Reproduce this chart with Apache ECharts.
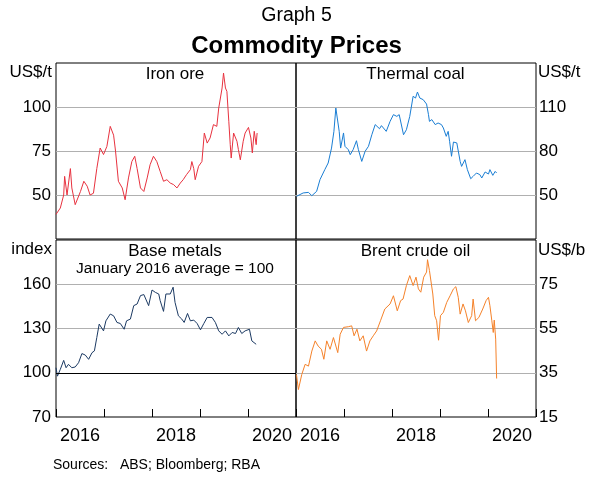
<!DOCTYPE html>
<html>
<head>
<meta charset="utf-8">
<script src="https://cdn.jsdelivr.net/npm/echarts@6/dist/echarts.min.js"></script>
<style>
  html, body { margin: 0; padding: 0; background: #fff; }
  #chart { width: 593px; height: 487px; }
</style>
</head>
<body>
<div id="chart"></div>
<script>
// dates are decimal years
const ironDates = [2016.00, 2016.09, 2016.16, 2016.18, 2016.23, 2016.30, 2016.33, 2016.40, 2016.51, 2016.58, 2016.65, 2016.71, 2016.78, 2016.85, 2016.92, 2016.99, 2017.06, 2017.13, 2017.20, 2017.24, 2017.30, 2017.38, 2017.44, 2017.51, 2017.58, 2017.64, 2017.69, 2017.76, 2017.83, 2017.90, 2017.96, 2018.03, 2018.10, 2018.17, 2018.24, 2018.31, 2018.38, 2018.45, 2018.52, 2018.59, 2018.65, 2018.72, 2018.80, 2018.83, 2018.87, 2018.90, 2018.97, 2019.04, 2019.09, 2019.15, 2019.21, 2019.28, 2019.35, 2019.39, 2019.46, 2019.49, 2019.53, 2019.56, 2019.60, 2019.63, 2019.65, 2019.70, 2019.77, 2019.80, 2019.84, 2019.90, 2019.94, 2020.01, 2020.06, 2020.09, 2020.13, 2020.17, 2020.19]
const ironValues = [39, 42.6, 50, 60.6, 50, 65, 54, 44.5, 52, 57.8, 55, 50, 51, 65, 76.7, 73, 77.6, 89, 84, 75, 57.8, 54, 47.3, 59.7, 69, 72, 65, 54, 52, 59.7, 67.2, 72, 69, 63.4, 57.8, 58.7, 56.8, 55.9, 54, 56.8, 58.7, 61.6, 64.4, 69, 65, 58.7, 66.3, 69, 85.2, 79.5, 82.4, 90, 89, 99.4, 110.8, 119.3, 110.8, 108.9, 91.9, 78.6, 71, 85.2, 80.5, 75.8, 70, 80.5, 85.2, 88.4, 82.4, 73.9, 86.2, 78.6, 85.2]

const coalDates = [2016.01, 2016.15, 2016.26, 2016.33, 2016.43, 2016.50, 2016.60, 2016.67, 2016.74, 2016.79, 2016.83, 2016.86, 2016.90, 2016.93, 2016.99, 2017.02, 2017.09, 2017.13, 2017.19, 2017.26, 2017.30, 2017.37, 2017.44, 2017.51, 2017.58, 2017.65, 2017.74, 2017.78, 2017.88, 2017.96, 2018.03, 2018.10, 2018.15, 2018.24, 2018.30, 2018.37, 2018.44, 2018.49, 2018.53, 2018.58, 2018.65, 2018.72, 2018.76, 2018.78, 2018.83, 2018.90, 2018.96, 2019.03, 2019.07, 2019.13, 2019.17, 2019.20, 2019.24, 2019.28, 2019.35, 2019.42, 2019.45, 2019.52, 2019.57, 2019.64, 2019.69, 2019.76, 2019.83, 2019.87, 2019.94, 2020.01, 2020.04, 2020.10, 2020.15, 2020.18]
const coalValues = [49.1, 51.4, 51.8, 49.5, 52.5, 60.5, 67.3, 71.8, 82, 93.4, 109.3, 108.2, 93.4, 82, 92.3, 83.2, 80.9, 77.5, 80.9, 87, 80.9, 72.9, 79.8, 83.2, 91.1, 98, 95.2, 97.3, 93.4, 100.2, 104.8, 103.6, 104.8, 91.1, 94.5, 103.6, 117.3, 116.1, 120.2, 116.1, 115, 112, 104.8, 100.2, 101.4, 98, 99.1, 98, 95.7, 90, 93.4, 86.6, 76.4, 86.1, 85.5, 72.9, 69.5, 74.1, 67.3, 61.1, 62.7, 65, 63.9, 61.6, 65.7, 64.3, 67.3, 63.4, 66.1, 65]

const metalsDates = [2016.00, 2016.03, 2016.09, 2016.16, 2016.21, 2016.26, 2016.33, 2016.40, 2016.47, 2016.54, 2016.61, 2016.68, 2016.75, 2016.80, 2016.85, 2016.90, 2016.94, 2016.99, 2017.04, 2017.13, 2017.20, 2017.27, 2017.34, 2017.42, 2017.47, 2017.55, 2017.62, 2017.69, 2017.76, 2017.83, 2017.93, 2018.00, 2018.07, 2018.14, 2018.17, 2018.24, 2018.29, 2018.38, 2018.44, 2018.48, 2018.55, 2018.62, 2018.67, 2018.74, 2018.80, 2018.87, 2018.94, 2019.01, 2019.08, 2019.15, 2019.25, 2019.32, 2019.39, 2019.46, 2019.53, 2019.60, 2019.67, 2019.74, 2019.80, 2019.87, 2019.94, 2020.03, 2020.08, 2020.12, 2020.17]
const metalsValues = [103.4, 97.7, 102.3, 108.4, 103.4, 105.7, 103.4, 103.9, 106.8, 113, 112, 109.1, 113.6, 114.8, 123.9, 133, 131.8, 128.4, 135.2, 139.8, 138.6, 134.1, 133.4, 129.5, 135.2, 136.4, 145.5, 146.6, 152.3, 153, 145.5, 156.1, 154.5, 153.4, 148.9, 141.6, 153.4, 153.4, 158, 147.7, 138.6, 136.4, 134.1, 140.2, 135.2, 135.7, 133.4, 129.1, 133.4, 137.5, 137.5, 134.1, 128.4, 126.1, 128.4, 125, 127.3, 126.6, 130.7, 126.6, 128.4, 129.5, 121.6, 122.7, 119.3]

const oilDates = [2016.01, 2016.05, 2016.12, 2016.19, 2016.26, 2016.33, 2016.40, 2016.46, 2016.53, 2016.58, 2016.64, 2016.71, 2016.78, 2016.87, 2016.92, 2016.99, 2017.09, 2017.16, 2017.21, 2017.27, 2017.33, 2017.40, 2017.47, 2017.54, 2017.61, 2017.68, 2017.76, 2017.85, 2017.96, 2018.03, 2018.11, 2018.18, 2018.23, 2018.30, 2018.37, 2018.44, 2018.50, 2018.55, 2018.60, 2018.66, 2018.72, 2018.74, 2018.78, 2018.85, 2018.89, 2018.93, 2018.97, 2019.01, 2019.07, 2019.14, 2019.21, 2019.28, 2019.33, 2019.38, 2019.42, 2019.48, 2019.53, 2019.59, 2019.66, 2019.69, 2019.74, 2019.81, 2019.89, 2019.96, 2020.01, 2020.04, 2020.08, 2020.11, 2020.13, 2020.16, 2020.18]
const oilValues = [34.2, 27.4, 34.2, 38.8, 38, 44.8, 49.4, 47.1, 45.6, 41.1, 49.4, 45.6, 50.9, 44.1, 52.4, 55.5, 55.8, 56.2, 51.7, 54.7, 49.4, 51.7, 44.8, 49.4, 51.7, 53.9, 58.5, 63.8, 66.1, 69.8, 63, 67.6, 68.3, 74.4, 78.9, 74.4, 78.2, 72.9, 71.4, 78.2, 80.5, 86.1, 81.2, 70.6, 60.8, 58.5, 49.7, 60.8, 62.3, 66.8, 69.8, 72.9, 73.9, 69.1, 61.5, 66.1, 63, 57.7, 60.8, 68.3, 58.5, 60, 63.8, 67.6, 69.1, 65.3, 58.5, 53.2, 58.8, 50.2, 32.4]

// year-start tick marks on the bottom panels
const tickYears = [2017, 2018, 2019, 2020]

const font = 'Liberation Sans, Arial, sans-serif'
const grids = [
  { left: 56, top: 63, width: 240, height: 176 },
  { left: 296, top: 63, width: 240, height: 176 },
  { left: 56, top: 240, width: 240, height: 177 },
  { left: 296, top: 240, width: 240, height: 177 }
]

function pairs(xs, ys) {
  return xs.map((x, i) => [x, ys[i]])
}

// y axis: hide labels at the edges that the reference leaves empty
function yAxis(grid, min, max, interval, position, hide) {
  return {
    type: 'value',
    gridIndex: grid,
    min, max, interval, position,
    axisLine: { show: false },
    axisTick: { show: false },
    splitLine: { show: true, showMinLine: false, showMaxLine: false, lineStyle: { color: '#b0b0b0', width: 1 } },
    axisLabel: {
      color: '#000', fontSize: 17, fontFamily: font,
      margin: position === 'left' ? 5 : 3,
      formatter: (v) => (hide.indexOf(v) >= 0 ? '' : String(v))
    }
  }
}

// main x axis of each panel: ticks only (bottom panels), no labels
function tickAxis(grid, ticks) {
  return {
    type: 'value', gridIndex: grid, min: 2016, max: 2021, interval: 1,
    axisLine: { show: false },
    axisTick: { show: ticks, inside: true, length: 8, lineStyle: { color: '#000', width: 1 } },
    axisLabel: { show: false },
    splitLine: { show: false }
  }
}

// year labels: a top axis moved down onto the bottom edge, labels below it,
// even years only, pushed half a year right by left padding
function labelAxis(grid, height) {
  return {
    type: 'value', gridIndex: grid, position: 'top', offset: -height,
    min: 2016, max: 2021, interval: 1,
    axisLine: { show: false },
    axisTick: { show: false },
    splitLine: { show: false },
    axisLabel: {
      inside: true, color: '#000', fontSize: 18, fontFamily: font, margin: 10,
      align: 'center', padding: [0, 0, 0, 48],
      showMinLabel: true, showMaxLabel: true, hideOverlap: false,
      formatter: (v) => (v % 2 === 0 ? String(v) : '')
    }
  }
}

function lineSeries(idx, data, color) {
  return {
    type: 'line', xAxisIndex: idx, yAxisIndex: idx, data,
    showSymbol: false, silent: true,
    lineStyle: { color, width: 1 }
  }
}

function text(x, y, str, size, align, weight) {
  return {
    type: 'text', x, y,
    style: {
      text: str, fill: '#000', fontSize: size, fontFamily: font,
      fontWeight: weight || 'normal', textAlign: align, textVerticalAlign: 'middle'
    }
  }
}

const chart = echarts.init(document.getElementById('chart'))
const metals = lineSeries(2, pairs(metalsDates, metalsValues), '#1c3a63')
metals.markLine = {
  silent: true, symbol: ['none', 'none'], label: { show: false },
  lineStyle: { color: '#000', type: 'solid', width: 1 },
  data: [{ yAxis: 100 }]
}

const texts = [
  text(296.5, 16, 'Graph 5', 19.5, 'center'),
  text(296.5, 46, 'Commodity Prices', 24, 'center', 'bold'),
  text(52, 72, 'US$/t', 17, 'right'),
  text(538, 72, 'US$/t', 17, 'left'),
  text(52, 249, 'index', 17, 'right'),
  text(538, 250, 'US$/b', 17, 'left'),
  text(175, 74, 'Iron ore', 17, 'center'),
  text(415.5, 74, 'Thermal coal', 17, 'center'),
  text(175, 251, 'Base metals', 17, 'center'),
  text(175, 268.5, 'January 2016 average = 100', 15.5, 'center'),
  text(415.5, 251.5, 'Brent crude oil', 17, 'center'),
  text(53, 465, 'Sources:   ABS; Bloomberg; RBA', 14, 'left')
]

chart.setOption({
  animation: false,
  backgroundColor: '#fff',
  grid: grids.map((g) => Object.assign({ show: true, borderColor: '#000', borderWidth: 1, backgroundColor: 'transparent' }, g)),
  xAxis: [tickAxis(0, false), tickAxis(1, false), tickAxis(2, true), tickAxis(3, true), labelAxis(2, 177), labelAxis(3, 177)],
  yAxis: [
    yAxis(0, 25, 125, 25, 'left', [25, 125]),
    yAxis(1, 20, 140, 30, 'right', [20, 140]),
    yAxis(2, 70, 190, 30, 'left', [190]),
    yAxis(3, 15, 95, 20, 'right', [95])
  ],
  series: [
    lineSeries(0, pairs(ironDates, ironValues), '#e8323f'),
    lineSeries(1, pairs(coalDates, coalValues), '#1a7ed4'),
    metals,
    lineSeries(3, pairs(oilDates, oilValues), '#f5822a')
  ],
  graphic: texts
})

// backup tick marks placed through the axis scales, on the same half-pixel as axis ticks
const ticks = []
;[[2, 70], [3, 15]].forEach(([g, yMin]) => {
  tickYears.forEach((yr) => {
    const p = chart.convertToPixel({ gridIndex: g }, [yr, yMin])
    if (!p || isNaN(p[0])) return
    const x = Math.round(p[0]) + 0.5
    const y = Math.round(p[1])
    ticks.push({
      type: 'line', z: 100, silent: true,
      shape: { x1: x, y1: y, x2: x, y2: y - 8 },
      style: { stroke: '#000', lineWidth: 1 }
    })
  })
})
chart.setOption({ graphic: texts.concat(ticks) })
</script>
</body>
</html>
